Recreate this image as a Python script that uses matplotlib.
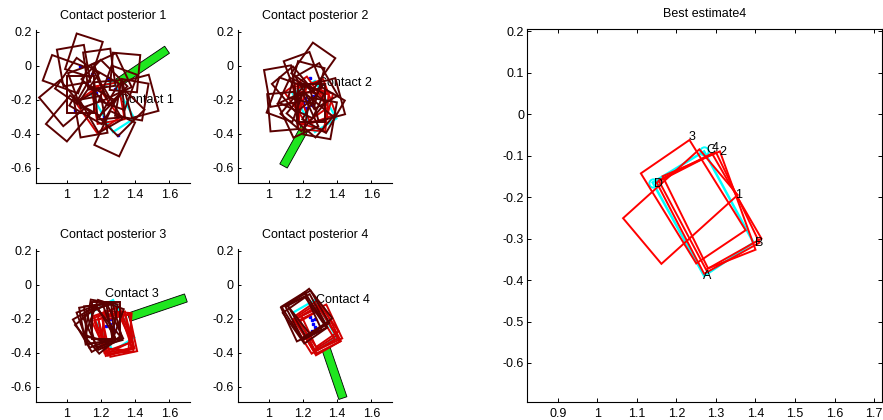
import numpy as np
import matplotlib
matplotlib.use('Agg')
import matplotlib.pyplot as plt
from matplotlib.patches import Polygon

plt.rcParams['font.family'] = ['Liberation Sans', 'DejaVu Sans']
plt.rcParams['axes.unicode_minus'] = False

# ---------------- data ----------------
# true object outline (cyan), corners D, C, B, A
true_x = [1.14, 1.27, 1.395, 1.27]
true_y = [-0.165, -0.09, -0.31, -0.39]

# hypothesis rectangle size
rect_w = 0.16
rect_h = 0.22

# posterior 1
p1_dark_cx = [1.10, 1.04, 1.19, 1.34, 0.99, 0.97, 1.01, 1.28, 1.43, 1.38, 1.12, 1.18, 1.22, 1.25, 1.15, 1.30, 1.08, 1.20, 1.32, 1.06, 1.26, 1.14]
p1_dark_cy = [0.06, 0.00, -0.02, -0.04, -0.05, -0.22, -0.31, -0.40, -0.18, -0.20, -0.12, -0.16, -0.10, -0.20, -0.22, -0.13, -0.17, -0.26, -0.28, -0.09, -0.06, -0.30]
p1_dark_ang = [-18, 10, 8, -5, 70, 40, -40, -25, 15, -10, 20, -30, 45, 5, 60, -20, 0, 30, -45, -35, 25, 10]
p1_red_cx = [1.18, 1.24]
p1_red_cy = [-0.26, -0.22]
p1_red_ang = [35, 10]
p1_blue_x = [1.08, 1.24, 1.12, 1.22, 1.30, 1.05, 1.17, 1.28, 1.15, 1.20]
p1_blue_y = [0.00, -0.07, -0.11, -0.30, -0.41, -0.26, -0.16, -0.14, -0.05, -0.20]

# posterior 2
p2_dark_cx = [1.26, 1.20, 1.07, 1.10, 1.08, 1.34, 1.30, 1.22, 1.15, 1.28, 1.20, 1.25, 1.17, 1.32, 1.24, 1.19]
p2_dark_cy = [0.00, -0.05, -0.12, -0.20, -0.27, -0.20, -0.31, -0.10, -0.14, -0.12, -0.25, -0.22, -0.29, -0.26, -0.29, -0.19]
p2_dark_ang = [-35, 20, 10, -20, 5, 15, -10, -15, 40, 30, -40, 0, 25, -30, 50, 65]
p2_red_cx = [1.24, 1.27, 1.22, 1.28, 1.26]
p2_red_cy = [-0.22, -0.25, -0.20, -0.21, -0.27]
p2_red_ang = [10, -15, 35, 20, -5]
p2_blue_x = [1.18, 1.21, 1.23, 1.25, 1.22, 1.26, 1.20, 1.24]
p2_blue_y = [-0.16, -0.19, -0.21, -0.23, -0.25, -0.18, -0.22, -0.07]

# posterior 3
p3_dark_cx = [1.17, 1.19, 1.16, 1.20, 1.22, 1.18, 1.23, 1.21, 1.17, 1.22]
p3_dark_cy = [-0.24, -0.23, -0.26, -0.21, -0.24, -0.27, -0.21, -0.25, -0.23, -0.22]
p3_dark_ang = [20, 5, 30, -10, 15, 40, 0, 25, 10, -20]
p3_red_cx = [1.28, 1.29, 1.27, 1.30, 1.26, 1.29, 1.31, 1.27]
p3_red_cy = [-0.28, -0.29, -0.26, -0.29, -0.27, -0.27, -0.30, -0.29]
p3_red_ang = [10, 15, 20, 5, 25, -5, 12, 18]
p3_blue_x = [1.22, 1.24, 1.25, 1.27, 1.23, 1.26, 1.28]
p3_blue_y = [-0.19, -0.21, -0.23, -0.25, -0.24, -0.20, -0.27]

# posterior 4
p4_dark_cx = [1.20, 1.22, 1.21, 1.23, 1.19, 1.24]
p4_dark_cy = [-0.18, -0.19, -0.21, -0.17, -0.20, -0.16]
p4_dark_ang = [32, 28, 35, 30, 25, 38]
p4_red_cx = [1.28, 1.30, 1.27, 1.29, 1.31, 1.26, 1.28]
p4_red_cy = [-0.26, -0.27, -0.25, -0.28, -0.25, -0.27, -0.23]
p4_red_ang = [30, 27, 33, 30, 25, 32, 35]
p4_blue_x = [1.24, 1.25, 1.26, 1.27, 1.28, 1.25, 1.27]
p4_blue_y = [-0.19, -0.21, -0.23, -0.25, -0.27, -0.27, -0.20]

# probe (green bar): start and end points
probe_x0 = [1.30, 1.209, 1.362, 1.335]
probe_y0 = [-0.10, -0.368, -0.192, -0.378]
probe_x1 = [1.586, 1.086, 1.696, 1.433]
probe_y1 = [0.094, -0.59, -0.078, -0.667]
probe_width = 0.05

contact_text_x = [1.31, 1.29, 1.225, 1.275]
contact_text_y = [-0.20, -0.10, -0.055, -0.09]

# best estimate red outlines (corner lists)
best_x = [[1.065, 1.162, 1.355, 1.258],
          [1.233, 1.110, 1.250, 1.375],
          [1.155, 1.290, 1.415, 1.275],
          [1.165, 1.310, 1.400, 1.280],
          [1.150, 1.300, 1.410, 1.270]]
best_y = [[-0.251, -0.361, -0.195, -0.085],
          [-0.0625, -0.143, -0.360, -0.280],
          [-0.160, -0.095, -0.300, -0.375],
          [-0.150, -0.090, -0.327, -0.372],
          [-0.165, -0.092, -0.310, -0.385]]
best_lbl = ['3', '4', '2', '1', 'D', 'A', 'B', 'C']
best_lbl_x = [1.231, 1.290, 1.308, 1.349, 1.142, 1.267, 1.400, 1.276]
best_lbl_y = [-0.0545, -0.082, -0.092, -0.195, -0.169, -0.390, -0.310, -0.086]

small_xticks = [1, 1.2, 1.4, 1.6]
small_xlabels = ['1', '1.2', '1.4', '1.6']
small_yticks = [0.2, 0, -0.2, -0.4, -0.6]
small_ylabels = ['0.2', '0', '-0.2', '-0.4', '-0.6']
big_xticks = [0.9, 1.0, 1.1, 1.2, 1.3, 1.4, 1.5, 1.6, 1.7]
big_xlabels = ['0.9', '1', '1.1', '1.2', '1.3', '1.4', '1.5', '1.6', '1.7']
big_yticks = [0.2, 0.1, 0, -0.1, -0.2, -0.3, -0.4, -0.5, -0.6]
big_ylabels = ['0.2', '0.1', '0', '-0.1', '-0.2', '-0.3', '-0.4', '-0.5', '-0.6']

# ---------------- drawing ----------------
DARK = '#5a0000'
RED = '#d00000'
FS = 9
LW = 1.4


def rect_corners(cx, cy, ang, w, h):
    t = np.deg2rad(ang)
    u = np.array([np.cos(t), np.sin(t)])
    v = np.array([-np.sin(t), np.cos(t)])
    c = np.array([cx, cy])
    pts = [c + (sx * w / 2) * u + (sy * h / 2) * v
           for sx, sy in [(-1, -1), (1, -1), (1, 1), (-1, 1)]]
    return np.array(pts)


def draw_rects(ax, cxs, cys, angs, color, z):
    for cx, cy, a in zip(cxs, cys, angs):
        p = rect_corners(cx, cy, a, rect_w, rect_h)
        ax.add_patch(Polygon(p, closed=True, fill=False, edgecolor=color,
                             linewidth=LW, zorder=z))


def draw_probe(ax, x0, y0, x1, y1):
    d = np.array([x1 - x0, y1 - y0])
    d = d / np.linalg.norm(d)
    n = np.array([-d[1], d[0]]) * probe_width / 2
    p0 = np.array([x0, y0]); p1 = np.array([x1, y1])
    pts = [p0 + n, p1 + n, p1 - n, p0 - n]
    ax.add_patch(Polygon(pts, closed=True, facecolor='#1fe61f', edgecolor='k',
                         linewidth=0.6, zorder=2))


fig = plt.figure(figsize=(8.83, 4.20), dpi=100)

positions = [(36, 30), (238, 30), (36, 249), (238, 249)]
posts = [
    (p1_dark_cx, p1_dark_cy, p1_dark_ang, p1_red_cx, p1_red_cy, p1_red_ang, p1_blue_x, p1_blue_y),
    (p2_dark_cx, p2_dark_cy, p2_dark_ang, p2_red_cx, p2_red_cy, p2_red_ang, p2_blue_x, p2_blue_y),
    (p3_dark_cx, p3_dark_cy, p3_dark_ang, p3_red_cx, p3_red_cy, p3_red_ang, p3_blue_x, p3_blue_y),
    (p4_dark_cx, p4_dark_cy, p4_dark_ang, p4_red_cx, p4_red_cy, p4_red_ang, p4_blue_x, p4_blue_y),
]
W, H = 883, 420
for i, ((lx, ty), post) in enumerate(zip(positions, posts)):
    ax = fig.add_axes([lx / W, (H - ty - 153) / H, 154 / W, 153 / H])
    ax.set_xlim(0.82, 1.72)
    ax.set_ylim(-0.69, 0.21)
    dcx, dcy, dang, rcx, rcy, rang, bx, by = post
    ax.text(contact_text_x[i], contact_text_y[i], 'Contact %d' % (i + 1),
            fontsize=FS, ha='left', va='center', zorder=1)
    draw_probe(ax, probe_x0[i], probe_y0[i], probe_x1[i], probe_y1[i])
    ax.add_patch(Polygon(np.column_stack([true_x, true_y]), closed=True, fill=False,
                         edgecolor='cyan', linewidth=1.6, zorder=3))
    ax.plot(bx, by, linestyle='none', marker='s', markersize=1.8, color='blue', zorder=4)
    draw_rects(ax, rcx, rcy, rang, RED, 5)
    draw_rects(ax, dcx, dcy, dang, DARK, 6)
    ax.set_title('Contact posterior %d' % (i + 1), fontsize=FS, pad=8)
    ax.spines['top'].set_visible(False)
    ax.spines['right'].set_visible(False)
    ax.set_xticks(small_xticks)
    ax.set_xticklabels(small_xlabels)
    ax.set_yticks(small_yticks)
    ax.set_yticklabels(small_ylabels)
    ax.tick_params(direction='in', length=2.5, width=0.7, labelsize=FS)
    ax.tick_params(axis='x', pad=4)
    ax.tick_params(axis='y', pad=3)
    for s in ax.spines.values():
        s.set_linewidth(0.8)

# best estimate
axb = fig.add_axes([527 / W, (H - 402) / H, 355 / W, 373 / H])
axb.set_xlim(0.822, 1.72)
axb.set_ylim(-0.694, 0.205)
for xs, ys in zip(best_x, best_y):
    axb.add_patch(Polygon(np.column_stack([xs, ys]), closed=True, fill=False,
                          edgecolor='red', linewidth=LW, zorder=3))
axb.add_patch(Polygon(np.column_stack([true_x, true_y]), closed=True, fill=False,
                      edgecolor='cyan', linewidth=1.8, zorder=2))
axb.plot([true_x[0], true_x[1]], [true_y[0], true_y[1]], linestyle='none', marker='o',
         markersize=6, markerfacecolor='none', markeredgecolor='cyan', markeredgewidth=1.4, zorder=2)
for t, x, y in zip(best_lbl, best_lbl_x, best_lbl_y):
    axb.text(x, y, t, fontsize=FS, ha='left', va='center', zorder=4)
axb.set_title('Best estimate4', fontsize=FS, pad=9)
axb.set_xticks(big_xticks)
axb.set_xticklabels(big_xlabels)
axb.set_yticks(big_yticks)
axb.set_yticklabels(big_ylabels)
axb.tick_params(direction='in', length=3, width=0.7, labelsize=FS,
                top=True, right=True)
axb.tick_params(axis='x', pad=4)
axb.tick_params(axis='y', pad=2)
for s in axb.spines.values():
    s.set_linewidth(0.8)

fig.savefig('out.png', dpi=100)
